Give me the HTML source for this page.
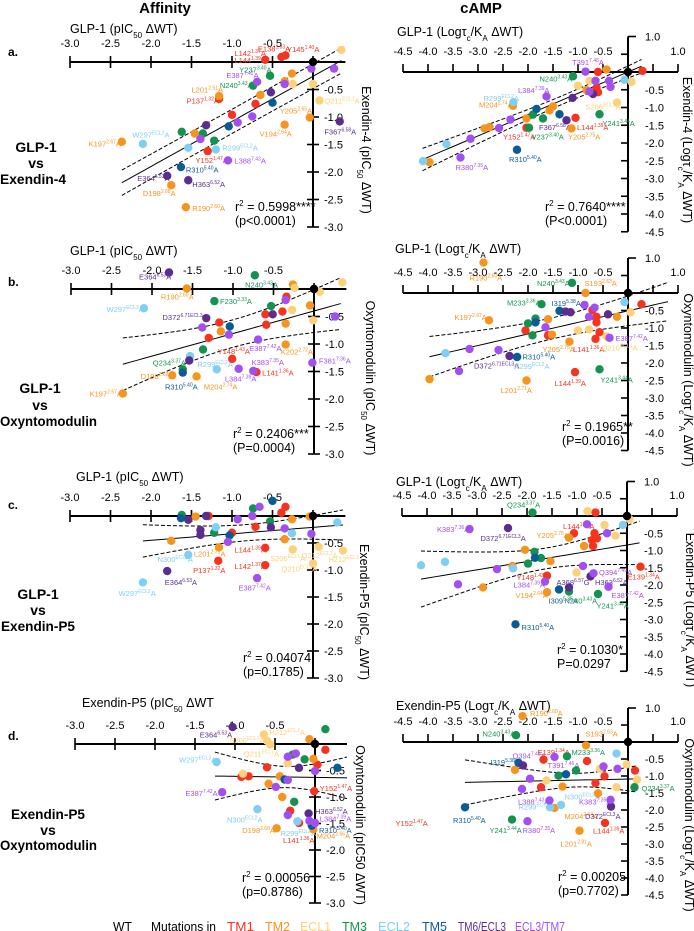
<!DOCTYPE html>
<html><head><meta charset="utf-8"><style>
body{margin:0;background:#fff}
svg{display:block;font-family:"Liberation Sans",Arial,sans-serif}
</style></head><body>
<svg id="fig" width="694" height="931" viewBox="0 0 694 931">
<text x="165" y="13" font-size="15" font-weight="bold" text-anchor="middle">Affinity</text>
<text x="481" y="13" font-size="15" font-weight="bold" text-anchor="middle">cAMP</text>
<g font-size="12" font-weight="bold">
<text x="8" y="56">a.</text><text x="8" y="286">b.</text><text x="8" y="509">c.</text><text x="8" y="740">d.</text>
</g>
<g font-size="14" font-weight="bold" text-anchor="middle">
<text x="36" y="152">GLP-1</text><text x="36" y="168">vs</text><text x="33" y="184" textLength="66" lengthAdjust="spacingAndGlyphs">Exendin-4</text>
<text x="40" y="393">GLP-1</text><text x="40" y="410">vs</text><text x="48.5" y="426" textLength="97" lengthAdjust="spacingAndGlyphs">Oxyntomodulin</text>
<text x="38" y="599">GLP-1</text><text x="38" y="615">vs</text><text x="38" y="631" textLength="74" lengthAdjust="spacingAndGlyphs">Exendin-P5</text>
<text x="48" y="819" textLength="74" lengthAdjust="spacingAndGlyphs">Exendin-P5</text><text x="48" y="835">vs</text><text x="48.5" y="850" textLength="97" lengthAdjust="spacingAndGlyphs">Oxyntomodulin</text>
</g>
<g font-size="12.5">
<text x="113" y="931" textLength="19" lengthAdjust="spacingAndGlyphs">WT</text>
<text x="151" y="931" textLength="65" lengthAdjust="spacingAndGlyphs">Mutations in</text>
<text x="227" y="931" textLength="27" lengthAdjust="spacingAndGlyphs" fill="#f5331f">TM1</text>
<text x="265" y="931" textLength="25" lengthAdjust="spacingAndGlyphs" fill="#f7941d">TM2</text>
<text x="300" y="931" textLength="31" lengthAdjust="spacingAndGlyphs" fill="#fdd17a">ECL1</text>
<text x="342" y="931" textLength="25" lengthAdjust="spacingAndGlyphs" fill="#149350">TM3</text>
<text x="378" y="931" textLength="32" lengthAdjust="spacingAndGlyphs" fill="#80cff3">ECL2</text>
<text x="422" y="931" textLength="25" lengthAdjust="spacingAndGlyphs" fill="#0b5b95">TM5</text>
<text x="458" y="931" textLength="48" lengthAdjust="spacingAndGlyphs" fill="#5b2d8e">TM6/ECL3</text>
<text x="515" y="931" textLength="50" lengthAdjust="spacingAndGlyphs" fill="#a24ff2">ECL3/TM7</text>
</g>
</svg>
<script>
const groupColors=['#f5331f','#f7941d','#fdd17a','#149350','#80cff3','#0b5b95','#5b2d8e','#a24ff2'];
// ---- panel a left ----
const aL_x=[-0.59,-0.39,-0.34,-1.16,-1.0,-0.71,-1.30,-0.26,-1.16,-0.65,-0.04,-0.35,-2.36,-1.46,-1.75,-1.57,-0.35,0.35,-0.25,0,0.08,-0.53,-0.74,-1.62,-1.36,-1.22,-2.10,-1.54,-1.20,-0.5,-1.04,-1.63,-0.52,-1.32,-1.80,-1.54,0.33,-0.02,0.26,-0.69,-0.35,-0.75,-0.93,-1.39,-1.05];
const aL_y=[0.04,0.09,0.12,-0.67,-0.96,-0.76,-1.62,-0.21,-0.62,-0.6,-1.01,-1.14,-1.45,-1.30,-2.24,-2.64,-0.35,0.22,-0.40,-0.40,-0.70,-0.25,-0.43,-1.27,-1.30,-1.43,-1.49,-1.56,-1.59,-0.74,-1.17,-1.91,-0.55,-1.15,-2.07,-2.15,-1.08,-0.12,-0.12,-0.36,-0.40,-0.99,-1.10,-1.40,-1.79];
const aL_g=[0,0,0,0,0,0,0,1,1,1,1,1,1,1,1,1,1,2,2,2,2,3,3,3,3,3,4,4,4,5,5,5,6,6,6,6,6,7,7,7,7,7,7,7,7];
const aL_fit=[0.82,-0.26];const aL_band=[0.22,-1,0.05];const aL_span=[-2.36,0.35];
const aL_lab=['L142|1.37|A','E138|1.33|A','Y145|1.40|A','L144|1.39|A','E387|7.42|A','Y237|3.40|A','N240|3.43|A','L201|2.51|A','P137|1.32|A','Q211|ECL1|A','Y205|2.65|A','V194|2.64|A','F367|6.58|A','K197|2.67|A','W297|ECL2|A','R299|ECL2|A','Y152|1.47|A','L388|7.43|A','R310|5.40|A','E364|6.53|A','H363|6.52|A','D198|2.68|A','R190|2.60|A'];
const aL_lx=[-0.97,-0.68,-0.32,-0.97,-1.07,-0.91,-1.15,-1.5,-1.56,0.14,-0.41,-0.66,0.14,-2.77,-2.23,-1.12,-1.45,-0.97,-1.57,-2.17,-1.49,-2.1,-1.49];
const aL_ly=[0.16,0.25,0.24,0.04,-0.24,-0.14,-0.42,-0.5,-0.7,-0.7,-0.88,-1.3,-1.26,-1.48,-1.32,-1.55,-1.78,-1.79,-1.95,-2.11,-2.22,-2.38,-2.65];
const aL_lg=[0,0,0,0,7,3,3,1,0,2,1,1,6,1,4,4,0,7,5,6,6,1,1];
// ---- panel a right ----
const aR_x=[-0.6,0.29,-0.63,-0.6,-1.05,-2.03,-0.43,-2.3,-3.97,-2.87,-2.77,-2.03,-1.57,-1.5,-0.83,-1.13,0.07,-0.22,-1.0,-0.77,-1.1,-0.57,-1.7,-1.9,-1.98,-2.29,-3.63,-4.1,-0.07,-1.83,-1.37,-2.22,-1.11,-1.23,-0.7,-0.85,-0.65,-0.38,-0.35,-1.63,-0.77,-2.35,-2.58,-3.15,-3.35];
const aR_y=[0,0.03,-0.45,-0.57,-1.29,-1.57,0.07,-0.95,-2.54,-1.59,-1.55,-1.31,-1.08,-0.97,-0.51,-1.59,-0.28,-0.86,-0.39,-0.25,-0.12,-1.19,-1.31,-1.2,-1.57,-0.85,-2.03,-2.51,-0.22,-1.04,-1.19,-2.19,-0.73,-1.36,-0.62,0.01,-0.25,-0.25,-0.42,-0.69,-0.55,-1.34,-1.58,-1.88,-2.41];
const aR_g=[0,0,0,0,0,0,1,1,1,1,1,1,1,1,1,1,2,2,2,2,3,3,3,3,3,4,4,4,4,5,5,5,6,6,6,7,7,7,7,7,7,7,7,7,7];
const aR_fit=[0.6,0.0];const aR_band=[0.12,-1.2,0.1];const aR_span=[-4.11,0.27];
const aR_lab=['T391|7.46|A','N240|3.43|A','L384|7.39|A','R299|ECL2|A','M204|2.74|A','S206|ECL1|A','F367|6.58|A','L144|1.39|A','Y241|3.44|A','Y152|1.47|A','V237|3.40|A','Y205|2.75|A','R310|5.40|A','R380|7.35|A'];
const aR_lx=[-1.12,-1.77,-2.2,-2.89,-2.98,-0.85,-1.78,-1.02,-0.51,-2.5,-1.93,-1.2,-2.38,-3.45];
const aR_ly=[0.28,-0.19,-0.51,-0.73,-0.92,-0.97,-1.55,-1.55,-1.44,-1.82,-1.82,-1.82,-2.45,-2.68];
const aR_lg=[7,3,7,4,1,2,6,0,3,0,3,1,5,7];
// ---- panel b left ----
const bL_x=[-0.34,-0.39,-0.6,-0.59,-1.17,-1.30,-1.01,-0.71,-0.26,-1.57,-0.05,-0.35,-0.35,-1.15,-1.75,-1.45,-2.36,0.35,-0.24,0.07,-0.27,-0.01,-0.73,-1.23,-0.53,-1.37,-1.62,-2.1,-1.53,-1.2,-1.04,-1.62,-1.79,-1.33,-0.51,-1.54,-0.35,-1.38,-1.05,-0.69,-0.93,-0.75,-0.02,0.26];
const bL_y=[-0.14,-0.41,-0.46,-0.65,-0.61,-0.89,-1.27,-1.51,0.08,0.01,-0.3,-0.63,-1.01,-0.77,-1.57,-1.59,-1.90,0.12,0.02,-0.05,-0.38,-0.57,0.25,-0.22,-0.31,-1.10,-1.46,-0.35,-1.22,-1.46,-0.68,-1.52,0.30,-0.53,-0.46,-1.30,-0.2,-0.70,-0.83,-0.92,-1.45,-1.49,-1.34,-0.5];
const bL_g=[0,0,0,0,0,0,0,0,1,1,1,1,1,1,1,1,1,2,2,2,2,2,3,3,3,3,3,4,4,4,5,5,6,6,6,6,7,7,7,7,7,7,7,7];
const bL_fit=[0.41,-0.4];const bL_band=[0.25,-1,0.3];const bL_span=[-2.36,0.33];
const bL_lab=['E364|6.53|A','N240|3.43|A','R190|2.60|A','F230|3.33|A','W297|ECL2|A','D372|6.71ECL3|A','Y148|1.43|A','E387|7.42|A','K202|2.72|A','F381|7.36|A','Q234|3.37|A','R299|ECL2|A','K383|7.35|A','L141|1.36|A','D198|2.68|A','L384|7.39|A','R310|5.40|A','M204|2.74|A','K197|2.67|A'];
const bL_lx=[-2.16,-0.85,-1.89,-1.16,-2.56,-1.87,-1.19,-0.8,-0.41,0.06,-1.99,-1.44,-0.77,-0.64,-2.14,-1.1,-1.84,-1.36,-2.77];
const bL_ly=[0.23,0.08,-0.14,-0.22,-0.36,-0.51,-1.13,-1.07,-1.14,-1.3,-1.34,-1.36,-1.33,-1.52,-1.58,-1.63,-1.77,-1.77,-1.9];
const bL_lg=[6,3,1,3,4,6,0,7,1,7,3,4,7,0,1,7,5,1,1];
// ---- panel b right ----
const bR_x=[0.27,-0.71,-0.63,-0.63,-0.57,-0.65,-2.05,-1.6,-1.06,-2.89,-0.85,-2.78,-1.6,-1.52,-1.17,-0.22,-3.97,-2.03,0.05,-1.0,-0.78,-0.43,-1.12,-1.73,-1.85,-2.0,-1.91,-0.57,-0.07,-3.65,-2.21,-1.37,-1.85,-2.22,-1.25,-1.15,-0.4,-2.37,-0.87,-0.67,-0.78,-1.65,-0.37,-3.17,-2.59,-3.38];
const bR_y=[-0.32,-0.49,-0.68,-0.84,-1.12,-1.31,-1.07,-1.21,-2.26,0.87,0,-0.78,-0.75,-1.19,-1.39,-0.68,-2.46,-2.5,-0.55,-1.07,-1.04,-1.24,0.29,-0.32,-0.73,-0.87,-1.21,-2.18,-0.26,-1.72,-1.82,-0.51,-0.84,-1.83,-0.53,-0.55,-0.61,-1.80,-0.34,-0.42,-0.68,-0.98,-1.28,-1.60,-1.63,-2.23];
const bR_g=[0,0,0,0,0,0,0,0,0,1,1,1,1,1,1,1,1,1,2,2,2,2,3,3,3,3,3,3,4,4,4,5,5,5,6,6,6,6,7,7,7,7,7,7,7,7];
const bR_fit=[0.33,-0.51];const bR_band=[0.3,-1.5,0.2];const bR_span=[-3.97,0.8];
const bR_lab=['R190|2.60|A','N240|3.43|A','S193|2.63|A','M233|3.36|A','I319|5.38|A','K197|2.67|A','E387|7.42|A','Y205|2.75|A','L141|1.36|A','Q210|ECL1|A','R310|5.40|A','D372|6.71ECL3|A','R299|ECL2|A','L144|1.39|A','Y241|3.44|A','L201|2.71|A'];
const bR_lx=[-3.17,-1.82,-0.87,-2.42,-1.53,-3.47,-0.25,-1.71,-1.1,-0.53,-2.11,-3.08,-2.28,-1.47,-0.55,-2.55];
const bR_ly=[0.44,0.29,0.29,-0.27,-0.29,-0.68,-1.28,-1.6,-1.6,-1.55,-1.82,-2.07,-2.09,-2.57,-2.47,-2.77];
const bR_lg=[1,3,1,3,5,1,7,1,0,2,5,6,4,0,3,1];
// ---- panel c left ----
const cL_x=[-1.29,-0.34,-0.39,-0.71,-1.0,-0.59,-1.17,-0.59,-1.45,-0.26,-0.04,-1.75,-1.16,-0.35,-0.25,0.07,0.37,0,-1.62,-0.74,-0.53,-1.22,-1.2,-0.26,-1.54,-2.1,0.3,-0.5,-1.63,-1.03,-1.54,-1.32,-0.52,-1.39,-1.39,-1.8,-0.66,-0.75,-0.93,-0.35,-0.02,-1.05,-0.69];
const cL_y=[0,0.17,0.06,-0.2,-0.31,-0.59,-0.83,-0.91,-0.01,-0.06,-0.01,-0.46,-0.58,-0.43,-0.62,-0.57,-0.64,-0.88,0.02,0.14,-0.1,-0.31,-0.21,-0.32,-0.72,-1.23,-0.12,0.28,-0.04,-0.36,-0.07,0,-0.21,-0.26,-0.35,-1.02,0.17,0,-0.06,-0.23,-0.33,-0.48,-1.15];
const cL_g=[0,0,0,0,0,0,0,0,1,1,1,1,1,1,2,2,2,2,3,3,3,3,4,4,4,4,4,5,5,5,6,6,6,6,6,6,7,7,7,7,7,7,7];
const cL_fit=[0.12,-0.21];const cL_band=[0.15,-0.8,0.2];const cL_span=[-2.1,0.37];
const cL_lab=['L201|2.75|A','L144|1.39|A','S206|ECL1|A','Q212|ECL1|A','H212|ECL1','N300|ECL2|A','P137|1.32|A','L142|1.37|A','Q210|ECL1|A','E364|6.53|A','E387|7.42|A','W297|ECL2|A'];
const cL_lx=[-1.47,-0.97,-0.53,-0.14,0.19,-1.92,-1.48,-0.97,-0.39,-1.83,-0.92,-2.4];
const cL_ly=[-0.69,-0.62,-0.78,-0.72,-0.8,-0.8,-1.0,-0.93,-0.97,-1.22,-1.32,-1.43];
const cL_lg=[1,0,2,2,2,4,0,0,2,6,7,4];
// ---- panel c right ----
const cR_x=[-0.63,-1.06,-0.65,-0.6,-0.68,-0.7,-1.6,0.27,-1.16,-0.86,-2.04,-1.53,-2.29,-2.88,-1.6,-0.79,-0.45,-0.23,0.05,-1.01,-1.89,-1.85,-1.72,-1.98,-1.16,-0.58,-0.08,-4.12,-3.64,-2.28,-1.84,-1.36,-2.23,-2.38,-0.73,-1.16,-3.15,-0.8,-0.4,-0.88,-0.67,-0.37,-1.64,-2.6,-3.38];
const cR_y=[0.1,-0.5,-0.5,-0.65,-0.87,-0.7,-1.73,-1.47,-0.63,-0.87,-0.98,-1.31,-1.45,-2.07,-2.21,0.14,-0.26,-0.57,-0.09,-1.64,0.1,-1.04,-1.22,-1.38,-2.19,-2.26,-0.26,-1.43,-1.33,-1.52,-1.21,-2.13,-3.14,-0.35,-1.75,-2.07,-0.38,-0.24,-0.5,-1.45,-1.66,-2.05,-1.9,-1.54,-1.98];
const cR_g=[0,0,0,0,0,0,0,0,1,1,1,1,1,1,1,2,2,2,2,2,3,3,3,3,3,3,4,4,4,4,5,5,5,6,6,6,7,7,7,7,7,7,7,7,7];
const cR_fit=[0.24,-0.84];const cR_band=[0.3,-1.6,0.3];const cR_span=[-4.12,0.25];
const cR_lab=['Q234|3.37|A','K383|7.36|A','L144|1.36|A','D372|6.71ECL3|A','Y205|2.75|A','Y148|1.43|A','L384|7.39|A','A368|6.57|G','Q394|7.49|A','E139|1.34|A','H363|6.52|A','V194|2.64|A','I309|5.35|A','N240|3.43|A','E387|7.42|A','Y241|3.44|A','R310|5.40|A'];
const cR_lx=[-2.4,-3.8,-1.28,-2.93,-1.81,-2.21,-2.27,-1.41,-0.56,0.01,-0.64,-2.23,-1.57,-1.25,-0.31,-0.61,-2.11];
const cR_ly=[0.34,-0.38,-0.29,-0.64,-0.55,-1.77,-1.99,-1.91,-1.62,-1.75,-1.91,-2.29,-2.45,-2.45,-2.29,-2.59,-3.22];
const cR_lg=[3,7,0,6,1,0,7,6,7,0,6,1,5,3,7,3,5];
// ---- panel d left ----
const dL_x=[0.13,0.03,-0.6,-0.92,-0.83,-0.01,-0.31,-0.2,-0.07,-0.02,-0.44,-0.58,-0.41,-0.48,-0.02,-0.64,-0.6,-0.56,-0.34,-0.9,0.13,-0.13,-0.28,-0.26,-1.23,-0.72,-0.22,0.28,-0.38,-0.04,-1.03,-0.2,-0.08,-0.24,-0.34,0,-0.34,-0.49,-1.16,-0.34,-0.07,0];
const dL_y=[-0.11,-0.39,-0.44,-0.62,-0.61,-0.89,-1.26,-1.49,0.09,-0.28,-0.61,-0.75,-1.0,-1.59,-1.61,0.18,0.06,-0.01,-0.36,-0.56,0.28,-0.29,-0.2,-1.09,-0.34,-1.23,-1.46,-0.45,-0.67,-1.54,0.32,-0.45,-1.31,-0.18,-0.24,-0.51,-0.68,-0.81,-0.91,-1.34,-1.45,-1.49];
const dL_g=[0,0,0,0,0,0,0,0,1,1,1,1,1,1,1,2,2,2,2,2,3,3,3,3,4,4,4,5,5,5,6,6,6,7,7,7,7,7,7,7,7,7];
const dL_fit=[-0.02,-0.63];const dL_band=[0.2,-0.35,0.45];const dL_span=[-1.25,0.4];
const dL_lab=['E364|6.53|A','S206|ECL1|A','H212|ECL1|A','Q211|ECL1|A','W297|ECL2|A','Y152|1.47|A','E387|7.42|A','H363|6.52|A','L384|7.39|A','N300|ECL2|A','D198|2.68|A','R299|ECL2|A','R310|5.40|A','L141|1.36|A','M204|2.66|A'];
const dL_lx=[-1.44,-1.07,-0.57,-0.89,-1.7,0.06,-1.62,0.0,0.06,-1.1,-0.91,-0.43,0.05,-0.4,0.02];
const dL_ly=[0.18,0.08,0.23,-0.18,-0.29,-0.83,-0.92,-1.26,-1.41,-1.42,-1.62,-1.68,-1.62,-1.81,-1.73];
const dL_lg=[6,2,2,2,4,0,7,6,7,4,1,4,5,0,1];
// ---- panel d right ----
const dR_x=[-1.69,-0.82,-0.47,-0.65,-1.74,0.14,-0.46,-2.11,-0.84,-2.26,-1.31,-0.6,-1.47,-0.97,-1.63,-0.56,-0.03,0.18,-0.23,-2.24,-1.22,-1.04,-1.39,0.13,-2.32,-0.23,-1.56,-1.34,-2.19,-1.24,-3.26,-2.1,-0.34,-1.47,-1.96,-2.12,-1.57,-0.49,-0.21,-0.35,-2.01];
const dR_y=[-0.52,-0.56,-1.01,-1.21,-1.33,-0.84,-2.38,0.76,-0.1,-0.82,-1.31,-1.51,-1.94,-2.61,-1.13,-0.79,-0.66,-1.11,-1.33,0.2,-0.42,-0.84,-0.99,-1.33,-2.28,-0.34,-1.92,-1.85,-0.61,-0.95,-1.92,-0.69,-1.9,-0.44,-1.08,-1.38,-1.72,-0.72,-0.79,-1.7,-2.33];
const dR_g=[0,0,0,0,0,0,0,1,1,1,1,1,1,1,2,2,2,2,2,3,3,3,3,3,3,4,4,4,5,5,5,6,6,7,7,7,7,7,7,7,7];
const dR_fit=[0.03,-1.09];const dR_band=[0.2,-1,0.28];const dR_span=[-3.26,0.17];
const dR_lab=['R190|2.60|A','N240|3.43|A','S193|2.63|A','E139|1.34|A','M233|3.36|A','Q394|7.49|A','I319|5.38|A','T391|7.46|A','Q234|3.37|A','L388|7.43|A','N300|ECL2|A','K383|7.35|A','R299|ECL2|A','M204|2.64|A','D372|ECL3|A','R310|5.40|A','Y241|3.44|A','R380|7.35|A','L144|1.39|A','L201|2.81|A','Y152|1.47|A'];
const dR_lx=[-1.96,-2.91,-0.85,-1.81,-1.13,-2.31,-2.75,-1.61,0.27,-2.2,-1.27,-0.98,-2.19,-1.27,-0.86,-3.5,-2.77,-2.11,-0.7,-1.35,-4.65];
const dR_ly=[0.86,0.25,0.25,-0.3,-0.3,-0.39,-0.59,-0.67,-1.35,-1.75,-1.6,-1.75,-1.9,-2.17,-2.17,-2.29,-2.59,-2.59,-2.61,-2.98,-2.38];
const dR_lg=[1,3,1,0,3,7,5,7,3,7,4,7,4,1,6,5,3,7,0,1,0];

const NS='http://www.w3.org/2000/svg';
const svg=document.getElementById('fig');
function mk(tag,attrs,parent){const e=document.createElementNS(NS,tag);for(const k in attrs)e.setAttribute(k,attrs[k]);(parent||svg).appendChild(e);return e;}
function fmt(v){return v.toFixed(1);}

const panels=[
 {id:'a-affinity',side:'L',x0:313,y0:62,sx:81,sy:55,xt:['GLP-1 (pIC','50',' ΔWT)'],xtx:70,xty:33,yt:['Exendin-4 (pIC','50',' ΔWT)'],ytx:362,yty:150,r2:['0.5998****','(p<0.0001)'],rx:235,ry:211,X:aL_x,Y:aL_y,G:aL_g,F:aL_fit,B:aL_band,S:aL_span,LT:aL_lab,LX:aL_lx,LY:aL_ly,LG:aL_lg},
 {id:'a-camp',side:'R',x0:628,y0:72,sx:50,sy:35.5,xt:['GLP-1 (Logτ','c','/K','A',' ΔWT)'],xtx:397,xty:36,yt:['Exendin-4 (Logτ','c','/K','A',' ΔWT)'],ytx:683,yty:150,r2:['0.7640****','(P<0.0001)'],rx:545,ry:211,X:aR_x,Y:aR_y,G:aR_g,F:aR_fit,B:aR_band,S:aR_span,LT:aR_lab,LX:aR_lx,LY:aR_ly,LG:aR_lg},
 {id:'b-affinity',side:'L',x0:314,y0:289,sx:81,sy:55,xt:['GLP-1 (pIC','50',' ΔWT)'],xtx:70,xty:255,yt:['Oxyntomodulin (pIC','50',' ΔWT)'],ytx:366,yty:378,r2:['0.2406***','(P=0.0004)'],rx:233,ry:438,X:bL_x,Y:bL_y,G:bL_g,F:bL_fit,B:bL_band,S:bL_span,LT:bL_lab,LX:bL_lx,LY:bL_ly,LG:bL_lg},
 {id:'b-camp',side:'R',x0:628,y0:293,sx:50,sy:35,xt:['GLP-1 (Logτ','c','/K','A',' ΔWT)'],xtx:395,xty:253,yt:['Oxyntomodulin (Logτ','c','/K','A',' ΔWT)'],ytx:684,yty:380,r2:['0.1965**','(P=0.0016)'],rx:562,ry:431,X:bR_x,Y:bR_y,G:bR_g,F:bR_fit,B:bR_band,S:bR_span,LT:bR_lab,LX:bR_lx,LY:bR_ly,LG:bR_lg},
 {id:'c-affinity',side:'L',x0:313,y0:516,sx:81,sy:54,xt:['GLP-1 (pIC','50',' ΔWT)'],xtx:76,xty:481,yt:['Exendin-P5 (pIC','50',' ΔWT)'],ytx:360,yty:612,r2:['0.04074','(p=0.1785)'],rx:243,ry:662,X:cL_x,Y:cL_y,G:cL_g,F:cL_fit,B:cL_band,S:cL_span,LT:cL_lab,LX:cL_lx,LY:cL_ly,LG:cL_lg},
 {id:'c-camp',side:'R',x0:627,y0:516,sx:50,sy:34.5,xt:['GLP-1 (Logτ','c','/K','A',' ΔWT)'],xtx:396,xty:486,yt:['Exendin-P5 (Logτ','c','/K','A',' ΔWT)'],ytx:686,yty:610,r2:['0.1030*','P=0.0297'],rx:557,ry:654,X:cR_x,Y:cR_y,G:cR_g,F:cR_fit,B:cR_band,S:cR_span,LT:cR_lab,LX:cR_lx,LY:cR_ly,LG:cR_lg},
 {id:'d-affinity',side:'L',x0:315,y0:744,sx:80,sy:53,xt:['Exendin-P5 (pIC','50',' ΔWT'],xtx:82,xty:707,yt:['Oxyntomodulin  (pIC50 ΔWT)'],ytx:356,yty:825,r2:['0.00056','(p=0.8786)'],rx:242,ry:882,X:dL_x,Y:dL_y,G:dL_g,F:dL_fit,B:dL_band,S:dL_span,LT:dL_lab,LX:dL_lx,LY:dL_ly,LG:dL_lg},
 {id:'d-camp',side:'R',x0:628,y0:742,sx:50,sy:34,xt:['Exendin-P5 (Logτ','c','/K','A',' ΔWT)'],xtx:396,xty:710,yt:['Oxyntomodulin (Logτ','c','/K','A',' ΔWT)'],ytx:685,yty:825,r2:['0.00205','(p=0.7702)'],rx:558,ry:881,X:dR_x,Y:dR_y,G:dR_g,F:dR_fit,B:dR_band,S:dR_span,LT:dR_lab,LX:dR_lx,LY:dR_ly,LG:dR_lg}
];

function richText(parts,attrs,parent){
  const t=mk('text',attrs,parent);
  parts.forEach((p,i)=>{const ts=mk('tspan',{},t);ts.textContent=p;
    if(i%2===1){ts.setAttribute('font-size','8');ts.setAttribute('baseline-shift','sub');}});
  return t;
}

panels.forEach(P=>{
  const g=mk('g',{});
  
  
  const X=v=>P.x0+v*P.sx, Y=v=>P.y0-v*P.sy;
  const L=P.side==='L';
  const xmin=L?-3:-4.5, xmax=L?0.4:1.0, ymin=L?-3:-4.5, ymax=L?0:1.0;
  const xa=mk('line',{x1:X(xmin),x2:X(xmax),y1:P.y0,y2:P.y0,stroke:'#000','stroke-width':2},g);
  
  
  for(let v=xmin;v<=xmax+1e-6;v+=0.5){
    const vx=X(v);
    if(L) mk('line',{x1:vx,x2:vx,y1:P.y0-6,y2:P.y0+6,stroke:'#000','stroke-width':1.6},g);
    else mk('line',{x1:vx,x2:vx,y1:P.y0-8,y2:P.y0,stroke:'#000','stroke-width':1.6},g);
    if(Math.abs(v)>1e-6 && (v<0 || Math.abs(v-1)<1e-6)){
      const t=mk('text',{x:vx,y:P.y0-(L?15:17),'font-size':11,'text-anchor':'middle'},g);
      t.textContent=fmt(v);
      
      
    }
  }
  const ya=mk('line',{x1:P.x0,x2:P.x0,y1:Y(ymax)-(L?2:0),y2:Y(ymin),stroke:'#000','stroke-width':2},g);
  
  
  for(let v=ymax;v>=ymin-1e-6;v-=0.5){
    const vy=Y(v);
    if(L){ if(v<-1e-6) mk('line',{x1:P.x0-6,x2:P.x0+6,y1:vy,y2:vy,stroke:'#000','stroke-width':1.6},g);}
    else { if(Math.abs(v-1)<1e-6) mk('line',{x1:P.x0,x2:P.x0+8,y1:vy,y2:vy,stroke:'#000','stroke-width':1.6},g);
           else if(Math.abs(v)>1e-6) mk('line',{x1:P.x0-7,x2:P.x0,y1:vy,y2:vy,stroke:'#000','stroke-width':1.6},g);}
    if(Math.abs(v)>1e-6 && (v<0 || Math.abs(v-1)<1e-6)){
      const t=mk('text',{x:P.x0+(L?11:17),y:vy+4,'font-size':11},g);
      t.textContent=fmt(v);
      
      
    }
  }
  const xt=richText(P.xt,{x:P.xtx,y:P.xty,'font-size':12.5},g);
  
  
  const yt=richText(P.yt,{x:0,y:0,'font-size':12.5,'text-anchor':'middle',transform:`translate(${P.ytx},${P.yty}) rotate(90)`},g);
  
  
  const fy=x=>P.F[0]*x+P.F[1], hw=x=>Math.sqrt(P.B[0]*P.B[0]+P.B[2]*P.B[2]*(x-P.B[1])*(x-P.B[1]));
  const pts=[[],[],[]];
  for(let i=0;i<=30;i++){const x=P.S[0]+(P.S[1]-P.S[0])*i/30;
    pts[0].push(X(x)+','+Y(fy(x)));pts[1].push(X(x)+','+Y(fy(x)+hw(x)));pts[2].push(X(x)+','+Y(fy(x)-hw(x)));}
  const fl=mk('polyline',{points:pts[0].join(' '),fill:'none',stroke:'#000','stroke-width':1},g);
  
  
  [1,2].forEach(k=>{const b=mk('polyline',{points:pts[k].join(' '),fill:'none',stroke:'#000','stroke-width':1,'stroke-dasharray':'4,2'},g);
    
    });
  P.LT.forEach((s,i)=>{const parts=s.split('|');
    const t=mk('text',{x:X(P.LX[i]),y:Y(P.LY[i])+3,'font-size':7.5,fill:groupColors[P.LG[i]]},g);
    parts.forEach((p,j)=>{const ts=mk('tspan',{},t);ts.textContent=p;if(j===1){ts.setAttribute('font-size','5');ts.setAttribute('dy','-3');}if(j===2){ts.setAttribute('dy','3');}});
    
    });
  P.X.forEach((xv,i)=>{const c=mk('circle',{cx:X(xv),cy:Y(P.Y[i]),r:4.2,fill:groupColors[P.G[i]]},g);
    
    });
  const wt=mk('circle',{cx:X(0),cy:Y(0),r:4.2,fill:'#000'},g);
  
  
  const r=mk('text',{x:P.rx,y:P.ry,'font-size':12.5},g);
  const a=mk('tspan',{},r);a.textContent='r';
  const b=mk('tspan',{'font-size':8,dy:-5},r);b.textContent='2';
  const c=mk('tspan',{dy:5},r);c.textContent=' = '+P.r2[0];
  
  
  const p=mk('text',{x:P.rx,y:P.ry+14,'font-size':12.5},g);p.textContent=P.r2[1];
  
  
});
</script>
</body></html>
